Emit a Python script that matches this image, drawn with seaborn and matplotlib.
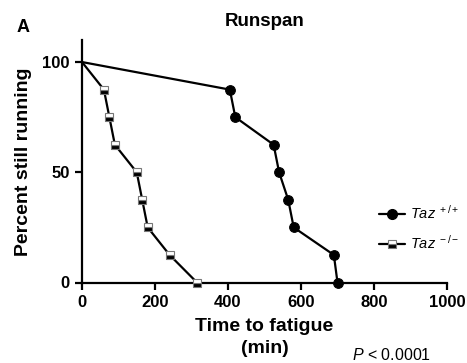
import matplotlib
matplotlib.use("Agg")
import matplotlib.pyplot as plt
from matplotlib.lines import Line2D
import pandas as pd
import seaborn as sns

# Data
wt_time = [0, 405, 420, 525, 540, 565, 580, 690, 700]
wt_pct = [100, 87.5, 75, 62.5, 50, 37.5, 25, 12.5, 0]
ko_time = [0, 60, 75, 90, 150, 165, 180, 240, 315]
ko_pct = [100, 87.5, 75, 62.5, 50, 37.5, 25, 12.5, 0]
x_ticks = [0, 200, 400, 600, 800, 1000]
y_ticks = [0, 50, 100]
labels = [r"$\mathit{Taz}^{\ +/+}$", r"$\mathit{Taz}^{\ -/-}$"]

sns.set_style("ticks")
plt.rcParams["font.family"] = ["Liberation Sans", "DejaVu Sans"]
plt.rcParams["mathtext.fontset"] = "custom"
plt.rcParams["mathtext.rm"] = "Liberation Sans"
plt.rcParams["mathtext.it"] = "Liberation Sans:italic"
plt.rcParams["mathtext.bf"] = "Liberation Sans:bold"
for k in ["text.color", "axes.labelcolor", "xtick.color", "ytick.color",
          "axes.edgecolor"]:
    plt.rcParams[k] = "black"

W, H = 467, 363
fig = plt.figure(figsize=(W / 100, H / 100), dpi=100)
left, right, top, bottom = 82, 447, 40, 282.5
ax = fig.add_axes([left / W, 1 - bottom / H, (right - left) / W, (bottom - top) / H])

wt = pd.DataFrame({"time": wt_time, "pct": wt_pct})
ko = pd.DataFrame({"time": ko_time, "pct": ko_pct})
mk = list(range(1, len(wt_time)))

sns.lineplot(data=wt, x="time", y="pct", ax=ax, color="black", lw=1.6,
             marker="o", markersize=7, markerfacecolor="black",
             markeredgecolor="black", markevery=mk, sort=False, zorder=3,
             clip_on=False)
sns.lineplot(data=ko, x="time", y="pct", ax=ax, color="black", lw=1.6,
             marker="s", markersize=6, fillstyle="bottom",
             markerfacecolor="black", markerfacecoloralt="white",
             markeredgecolor="#777777", markeredgewidth=0.8,
             markevery=mk, sort=False, zorder=3, clip_on=False)

ax.set_xlim(0, 1000)
ax.set_ylim(0, 110)
ax.set_xticks(x_ticks)
ax.set_yticks(y_ticks)
ax.tick_params(axis="both", direction="out", length=5, width=1.6,
               labelsize=12, pad=4)
for lab in ax.get_xticklabels() + ax.get_yticklabels():
    lab.set_fontweight("bold")
for s in ["top", "right"]:
    ax.spines[s].set_visible(False)
for s in ["left", "bottom"]:
    ax.spines[s].set_linewidth(1.6)
ax.set_xlabel("Time to fatigue\n(min)", fontsize=14, fontweight="bold",
              linespacing=1.35, labelpad=6)
ax.set_ylabel("Percent still running", fontsize=14, fontweight="bold",
              labelpad=7)
ax.set_title("Runspan", fontsize=13.5, fontweight="bold", pad=10)

fig.text(17 / W, 1 - 27 / H, "A", fontsize=13, fontweight="bold",
         ha="left", va="center")
fig.text(352 / W, 1 - 355 / H, r"$\mathit{P}$ < 0.0001", fontsize=11.5,
         ha="left", va="center")

handles = [
    Line2D([], [], color="black", lw=1.6, marker="o", markersize=7),
    Line2D([], [], color="black", lw=1.6, marker="s", markersize=6,
           fillstyle="bottom", markerfacecolor="black",
           markerfacecoloralt="white", markeredgecolor="#777777",
           markeredgewidth=0.8),
]
ax.legend(handles, labels, loc="center left",
          bbox_to_anchor=(379 / W, 1 - 228 / H),
          bbox_transform=fig.transFigure, frameon=False, fontsize=10.5,
          handlelength=1.75, handletextpad=0.35, labelspacing=0.85,
          borderaxespad=0, borderpad=0)

fig.savefig("out.png", dpi=100)
